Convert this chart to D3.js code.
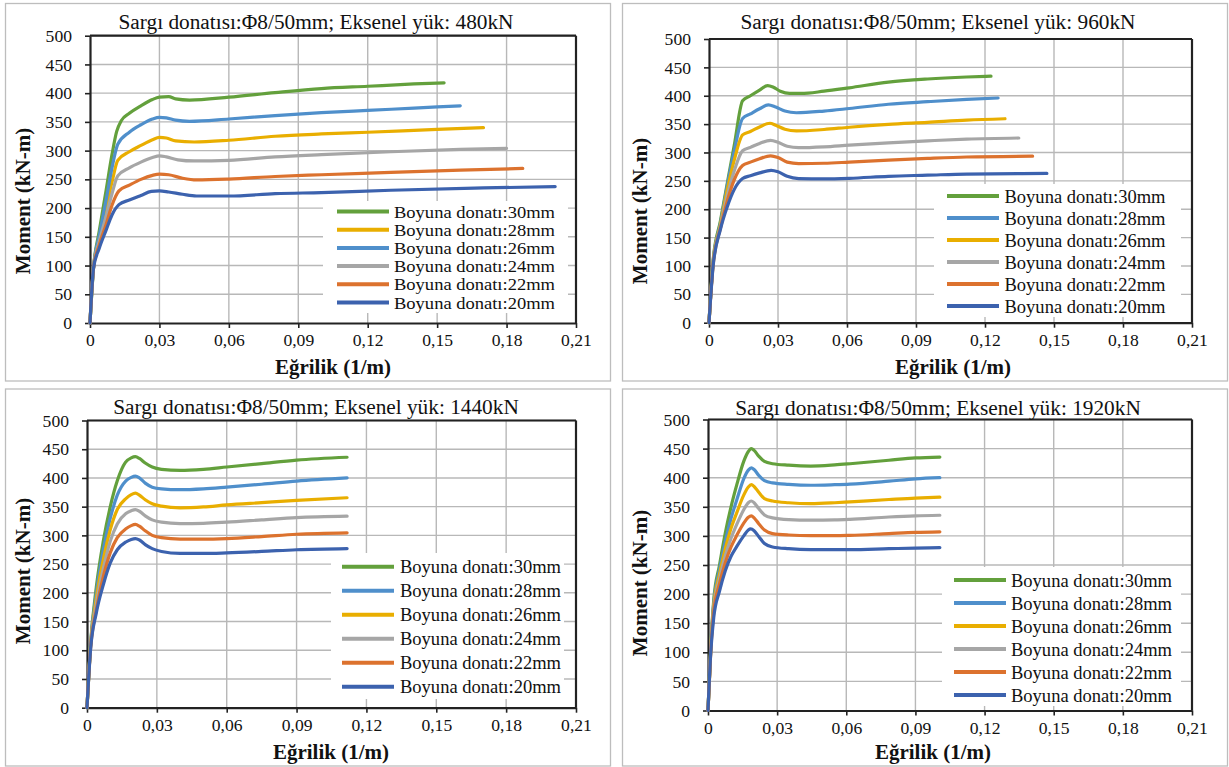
<!DOCTYPE html>
<html><head><meta charset="utf-8">
<script src="https://cdn.jsdelivr.net/npm/d3@7"></script>
<style>
body{margin:0;background:#fff}
svg{display:block}
text{font-family:"Liberation Serif","Times New Roman",serif;fill:#111}
</style></head>
<body><svg id="c" width="1229" height="767"></svg>
<script>
// ---------- data ----------
const titles = [
  "Sargı donatısı:Φ8/50mm; Eksenel yük: 480kN",
  "Sargı donatısı:Φ8/50mm; Eksenel yük: 960kN",
  "Sargı donatısı:Φ8/50mm; Eksenel yük: 1440kN",
  "Sargı donatısı:Φ8/50mm; Eksenel yük: 1920kN"
];
const legendLabels = ["Boyuna donatı:30mm","Boyuna donatı:28mm","Boyuna donatı:26mm","Boyuna donatı:24mm","Boyuna donatı:22mm","Boyuna donatı:20mm"];
const xTicks = [0,0.03,0.06,0.09,0.12,0.15,0.18,0.21];
const xTickLabels = ["0","0,03","0,06","0,09","0,12","0,15","0,18","0,21"];
const yTicks = [0,50,100,150,200,250,300,350,400,450,500];
const xTitle = "Eğrilik (1/m)";
const yTitle = "Moment (kN-m)";

// 480 kN (legend order 30,28,26,24,22,20)
const p480_30 = [[0,0],[0.0015,95],[0.004,160],[0.007,232],[0.0095,293],[0.0115,333],[0.0135,352],[0.017,365],[0.022,378],[0.027,389],[0.030,393],[0.034,394],[0.037,390],[0.043,388],[0.06,393],[0.08,401],[0.10,408],[0.12,412],[0.14,416],[0.153,418]];
const p480_28 = [[0,0],[0.0015,95],[0.004,148],[0.007,200],[0.0095,245],[0.012,283],[0.017,298],[0.022,309],[0.027,319],[0.030,323],[0.033,322],[0.037,317],[0.045,315],[0.06,318],[0.08,325],[0.10,329],[0.12,332],[0.15,337],[0.17,340]];
const p480_26 = [[0,0],[0.0015,95],[0.004,152],[0.007,215],[0.0095,270],[0.012,311],[0.017,332],[0.022,345],[0.027,355],[0.030,358],[0.033,357],[0.037,353],[0.043,351],[0.06,355],[0.08,361],[0.10,366],[0.12,370],[0.14,374],[0.16,378]];
const p480_24 = [[0,0],[0.0015,95],[0.004,142],[0.007,186],[0.0095,225],[0.012,256],[0.017,270],[0.022,280],[0.027,288],[0.030,291],[0.033,289],[0.038,284],[0.045,282],[0.06,283],[0.08,289],[0.10,293],[0.13,298],[0.16,302],[0.18,304]];
const p480_22 = [[0,0],[0.0015,95],[0.004,136],[0.007,172],[0.0095,205],[0.0125,230],[0.017,240],[0.022,250],[0.027,257],[0.030,259],[0.034,258],[0.04,252],[0.046,249],[0.06,250.5],[0.08,255],[0.10,258],[0.13,262],[0.16,266],[0.187,269]];
const p480_20 = [[0,0],[0.0015,95],[0.004,130],[0.007,162],[0.0095,188],[0.0125,206],[0.017,214],[0.022,222],[0.0265,229],[0.030,230],[0.034,228],[0.04,224],[0.046,221],[0.06,221],[0.08,225],[0.10,227],[0.13,231],[0.17,235],[0.201,237.5]];

// 960 kN
const p960_30 = [[0,0],[0.0018,110],[0.005,180],[0.008,247],[0.011,313],[0.0146,391],[0.018,400],[0.022,410],[0.0255,418],[0.028,415],[0.031,408],[0.035,404],[0.04,404],[0.05,408],[0.061,414],[0.078,424],[0.095,429.5],[0.112,433],[0.1226,434.5]];
const p960_28 = [[0,0],[0.0018,108],[0.005,176],[0.008,243],[0.011,303],[0.0146,360],[0.018,368],[0.022,377],[0.0258,384],[0.029,380],[0.033,373],[0.038,370],[0.05,373],[0.061,377.5],[0.078,385],[0.095,389.5],[0.112,393.5],[0.1257,396]];
const p960_26 = [[0,0],[0.0018,106],[0.005,173],[0.008,235],[0.011,287],[0.0146,331],[0.018,337],[0.022,345],[0.0265,351.5],[0.029,348],[0.033,341],[0.038,338],[0.05,340.5],[0.061,344.5],[0.078,349.5],[0.095,353],[0.112,357],[0.1287,359.5]];
const p960_24 = [[0,0],[0.0018,104],[0.005,170],[0.008,225],[0.011,268],[0.0146,303],[0.018,309],[0.022,316],[0.0268,321.5],[0.030,318],[0.034,311],[0.039,308.5],[0.05,310],[0.061,313],[0.078,317],[0.095,320.5],[0.112,323.5],[0.1347,325.5]];
const p960_22 = [[0,0],[0.0018,102],[0.005,167],[0.008,215],[0.011,252],[0.0146,277],[0.018,283],[0.022,289],[0.0268,294],[0.030,291],[0.034,283],[0.039,280.5],[0.05,281],[0.061,283],[0.078,286.5],[0.095,289.5],[0.112,292],[0.1407,293.5]];
const p960_20 = [[0,0],[0.0018,100],[0.005,165],[0.008,205],[0.011,235],[0.0146,254],[0.018,259],[0.022,264],[0.027,268.5],[0.030,266],[0.034,258],[0.039,254],[0.05,253.5],[0.061,254.5],[0.078,258],[0.095,260],[0.112,262],[0.1469,263]];

// 1440 kN
const p1440_30 = [[0,0],[0.0015,110],[0.004,210],[0.007,290],[0.010,350],[0.013,395],[0.0165,427],[0.019,435],[0.0208,437],[0.0225,434],[0.025,426],[0.028,419],[0.032,415],[0.04,413],[0.05,415],[0.06,419],[0.075,425],[0.09,431],[0.1117,436]];
const p1440_28 = [[0,0],[0.0015,108],[0.004,200],[0.007,275],[0.010,330],[0.013,370],[0.0167,395],[0.019,401],[0.0208,403],[0.0225,400],[0.025,391],[0.028,384],[0.032,381],[0.04,379.5],[0.05,381],[0.06,384],[0.075,389],[0.09,394.5],[0.1117,400]];
const p1440_26 = [[0,0],[0.0015,106],[0.004,190],[0.007,258],[0.010,310],[0.013,345],[0.0167,364],[0.019,371],[0.0208,373.5],[0.0225,370],[0.025,362],[0.028,355],[0.032,351],[0.04,348],[0.05,349.5],[0.06,353],[0.075,357],[0.09,361],[0.1117,365.5]];
const p1440_24 = [[0,0],[0.0015,104],[0.004,180],[0.007,242],[0.010,290],[0.013,320],[0.0167,338],[0.019,343],[0.0208,345],[0.0225,342],[0.025,334],[0.028,327],[0.032,323],[0.04,320.5],[0.05,321],[0.06,323],[0.075,327],[0.09,331],[0.1117,333.5]];
const p1440_22 = [[0,0],[0.0015,102],[0.004,170],[0.007,228],[0.010,270],[0.013,296],[0.0167,311.5],[0.019,317],[0.0208,319],[0.0225,316],[0.025,308],[0.028,300],[0.032,296],[0.04,293.5],[0.05,293.5],[0.06,294.5],[0.075,298],[0.09,302],[0.1117,304.5]];
const p1440_20 = [[0,0],[0.0015,100],[0.004,165],[0.007,214],[0.010,252],[0.013,275],[0.0167,288.5],[0.019,293],[0.0208,294.5],[0.0225,292],[0.025,284],[0.028,277],[0.032,272],[0.04,268.5],[0.05,268.5],[0.06,269.5],[0.075,272],[0.09,275],[0.1117,277]];

// 1920 kN
const p1920_30 = [[0,0],[0.0012,110],[0.0025,190],[0.005,250],[0.0075,305],[0.010,350],[0.0125,388],[0.0155,428],[0.0175,445],[0.0188,450],[0.020,447],[0.022,437],[0.0245,428],[0.028,424],[0.035,421.5],[0.0446,420],[0.055,422],[0.0616,424],[0.0785,430],[0.09,434],[0.1006,435.5]];
const p1920_28 = [[0,0],[0.0012,108],[0.0025,185],[0.005,242],[0.0075,290],[0.010,330],[0.0125,362],[0.0155,398],[0.0175,413],[0.0188,417],[0.020,414],[0.022,404],[0.0245,395],[0.028,391],[0.035,388.5],[0.0446,387],[0.055,388],[0.0616,389],[0.0785,394],[0.09,398],[0.1006,400]];
const p1920_26 = [[0,0],[0.0012,106],[0.0025,180],[0.005,234],[0.0075,278],[0.010,313],[0.0125,340],[0.0155,370],[0.0175,384],[0.0188,388],[0.020,385],[0.022,375],[0.0245,364],[0.028,360],[0.035,357],[0.0446,355.5],[0.055,357],[0.0616,358.5],[0.0785,362.5],[0.09,365],[0.1006,366.5]];
const p1920_24 = [[0,0],[0.0012,104],[0.0025,175],[0.005,226],[0.0075,266],[0.010,296],[0.0125,320],[0.0155,345],[0.0175,357],[0.0188,360],[0.020,357],[0.022,347],[0.0245,336],[0.028,331],[0.035,328],[0.0446,327],[0.055,327.5],[0.0616,328.5],[0.0785,332.5],[0.09,334.5],[0.1006,335.5]];
const p1920_22 = [[0,0],[0.0012,102],[0.0025,170],[0.005,218],[0.0075,254],[0.010,281],[0.0125,301],[0.0155,322],[0.0175,332],[0.0188,334.5],[0.020,331],[0.022,321],[0.0245,310],[0.028,304],[0.035,301.5],[0.0446,300.5],[0.055,300.5],[0.0616,301],[0.0785,304],[0.09,306],[0.1006,307]];
const p1920_20 = [[0,0],[0.0012,100],[0.0025,160],[0.005,205],[0.0075,240],[0.010,265],[0.0125,282],[0.0155,300],[0.0175,310],[0.0185,312],[0.020,309],[0.022,299],[0.0245,287],[0.028,281],[0.035,278],[0.0446,276.5],[0.055,276.5],[0.0616,276.5],[0.0785,278],[0.09,279],[0.1006,280]];

// ---------- styling / layout ----------
const C = {green:"#63a03c", lblue:"#4f8fcb", gold:"#e9ae00", gray:"#a6a6a6", orange:"#dc722e", dblue:"#3c62ae"};
const colorsA = [C.green, C.gold, C.lblue, C.gray, C.orange, C.dblue];   // panel 1 legend
const colorsB = [C.green, C.lblue, C.gold, C.gray, C.orange, C.dblue];   // panels 2-4

const panels = [
  {title:titles[0], series:[p480_30,p480_28,p480_26,p480_24,p480_22,p480_20], colors:colorsA,
   frame:[5.5,3.5,605,377.5], plot:{l:90,r:576,t:35.7,b:323}, tpos:[316,22], xl:[333,367], yl:[23,201],
   leg:{bx:323,by:201,bw:245,bh:112,lx:337,tx:394,y0:211.5,dy:18.2,fs:17.5}},
  {title:titles[1], series:[p960_30,p960_28,p960_26,p960_24,p960_22,p960_20], colors:colorsB,
   frame:[622.5,3.5,605,377.5], plot:{l:709,r:1192,t:39,b:322.7}, tpos:[938,22], xl:[953,367], yl:[640,211],
   leg:{bx:934,by:184,bw:247,bh:133,lx:947,tx:1004.5,y0:196,dy:22,fs:18.8}},
  {title:titles[2], series:[p1440_30,p1440_28,p1440_26,p1440_24,p1440_22,p1440_20], colors:colorsB,
   frame:[5.5,389,605,377], plot:{l:87,r:576,t:420.5,b:707.7}, tpos:[316,407], xl:[331,752], yl:[23,571],
   leg:{bx:331,by:553,bw:233,bh:146,lx:342,tx:400,y0:566.7,dy:24,fs:18.8}},
  {title:titles[3], series:[p1920_30,p1920_28,p1920_26,p1920_24,p1920_22,p1920_20], colors:colorsB,
   frame:[622.5,389,605,377], plot:{l:708,r:1192,t:419.5,b:710.5}, tpos:[938,408], xl:[933,752], yl:[640,583],
   leg:{bx:942,by:567,bw:239,bh:139,lx:954,tx:1011,y0:580,dy:23,fs:18.8}}
];

const svg = d3.select("#c");
svg.append("rect").attr("width",1229).attr("height",767).attr("fill","#fff");

panels.forEach(p => {
  const g = svg.append("g");
  const [fx,fy,fw,fh] = p.frame;
  g.append("rect").attr("x",fx).attr("y",fy).attr("width",fw).attr("height",fh)
    .attr("fill","#fff").attr("stroke","#bdbdbd").attr("stroke-width",1.3);

  const x = d3.scaleLinear().domain([0,0.21]).range([p.plot.l,p.plot.r]);
  const y = d3.scaleLinear().domain([0,500]).range([p.plot.b,p.plot.t]);

  // gridlines
  g.append("g").selectAll("line.v").data(xTicks.slice(1)).join("line")
    .attr("x1",d=>x(d)).attr("x2",d=>x(d)).attr("y1",p.plot.t).attr("y2",p.plot.b)
    .attr("stroke","#b8b8b8").attr("stroke-width",1.4);
  g.append("g").selectAll("line.h").data(yTicks.slice(1)).join("line")
    .attr("x1",p.plot.l).attr("x2",p.plot.r).attr("y1",d=>y(d)).attr("y2",d=>y(d))
    .attr("stroke","#b8b8b8").attr("stroke-width",1.4);

  // axes
  const xa = g.append("g").attr("transform",`translate(0,${p.plot.b})`)
    .call(d3.axisBottom(x).tickValues(xTicks).tickFormat((d,i)=>xTickLabels[i]).tickSize(5).tickPadding(6).tickSizeOuter(0));
  const ya = g.append("g").attr("transform",`translate(${p.plot.l},0)`)
    .call(d3.axisLeft(y).tickValues(yTicks).tickSize(5).tickPadding(13).tickSizeOuter(0));
  [xa,ya].forEach(a=>{
    a.select(".domain").attr("stroke","#222").attr("stroke-width",2.2);
    a.selectAll(".tick line").attr("stroke","#222").attr("stroke-width",1.6);
    a.selectAll(".tick text").attr("font-family","Liberation Serif").attr("font-size",17.6).attr("fill","#111");
  });
  // top & right border of plot area
  g.append("line").attr("x1",p.plot.l).attr("x2",p.plot.r).attr("y1",p.plot.t).attr("y2",p.plot.t).attr("stroke","#222").attr("stroke-width",2.2);
  g.append("line").attr("x1",p.plot.r).attr("x2",p.plot.r).attr("y1",p.plot.t).attr("y2",p.plot.b).attr("stroke","#222").attr("stroke-width",2.2);

  // curves
  const line = d3.line().x(d=>x(d[0])).y(d=>y(d[1])).curve(d3.curveMonotoneX);
  g.append("g").selectAll("path").data(p.series).join("path")
    .attr("d",line).attr("fill","none").attr("stroke",(d,i)=>p.colors[i])
    .attr("stroke-width",3.2).attr("stroke-linejoin","round").attr("stroke-linecap","round");

  // legend
  const L = p.leg;
  g.append("rect").attr("x",L.bx).attr("y",L.by).attr("width",L.bw).attr("height",L.bh).attr("fill","#fff");
  const li = g.append("g").selectAll("g").data(legendLabels).join("g");
  li.append("line").attr("x1",L.lx).attr("x2",L.lx+52).attr("y1",(d,i)=>L.y0+i*L.dy).attr("y2",(d,i)=>L.y0+i*L.dy)
    .attr("stroke",(d,i)=>p.colors[i]).attr("stroke-width",4);
  li.append("text").attr("x",L.tx).attr("y",(d,i)=>L.y0+i*L.dy).attr("dy","0.35em")
    .attr("font-size",L.fs).attr("textLength",161).attr("lengthAdjust","spacingAndGlyphs").text(d=>d);

  // titles
  g.append("text").attr("x",p.tpos[0]).attr("y",p.tpos[1]).attr("dy","0.35em").attr("text-anchor","middle")
    .attr("font-size",21.3).text(p.title);
  g.append("text").attr("x",p.xl[0]).attr("y",p.xl[1]).attr("dy","0.35em").attr("text-anchor","middle")
    .attr("font-size",21).attr("font-weight","bold").text(xTitle);
  g.append("text").attr("transform",`translate(${p.yl[0]},${p.yl[1]}) rotate(-90)`).attr("dy","0.35em")
    .attr("text-anchor","middle").attr("font-size",21).attr("font-weight","bold").text(yTitle);
});
</script></body></html>
